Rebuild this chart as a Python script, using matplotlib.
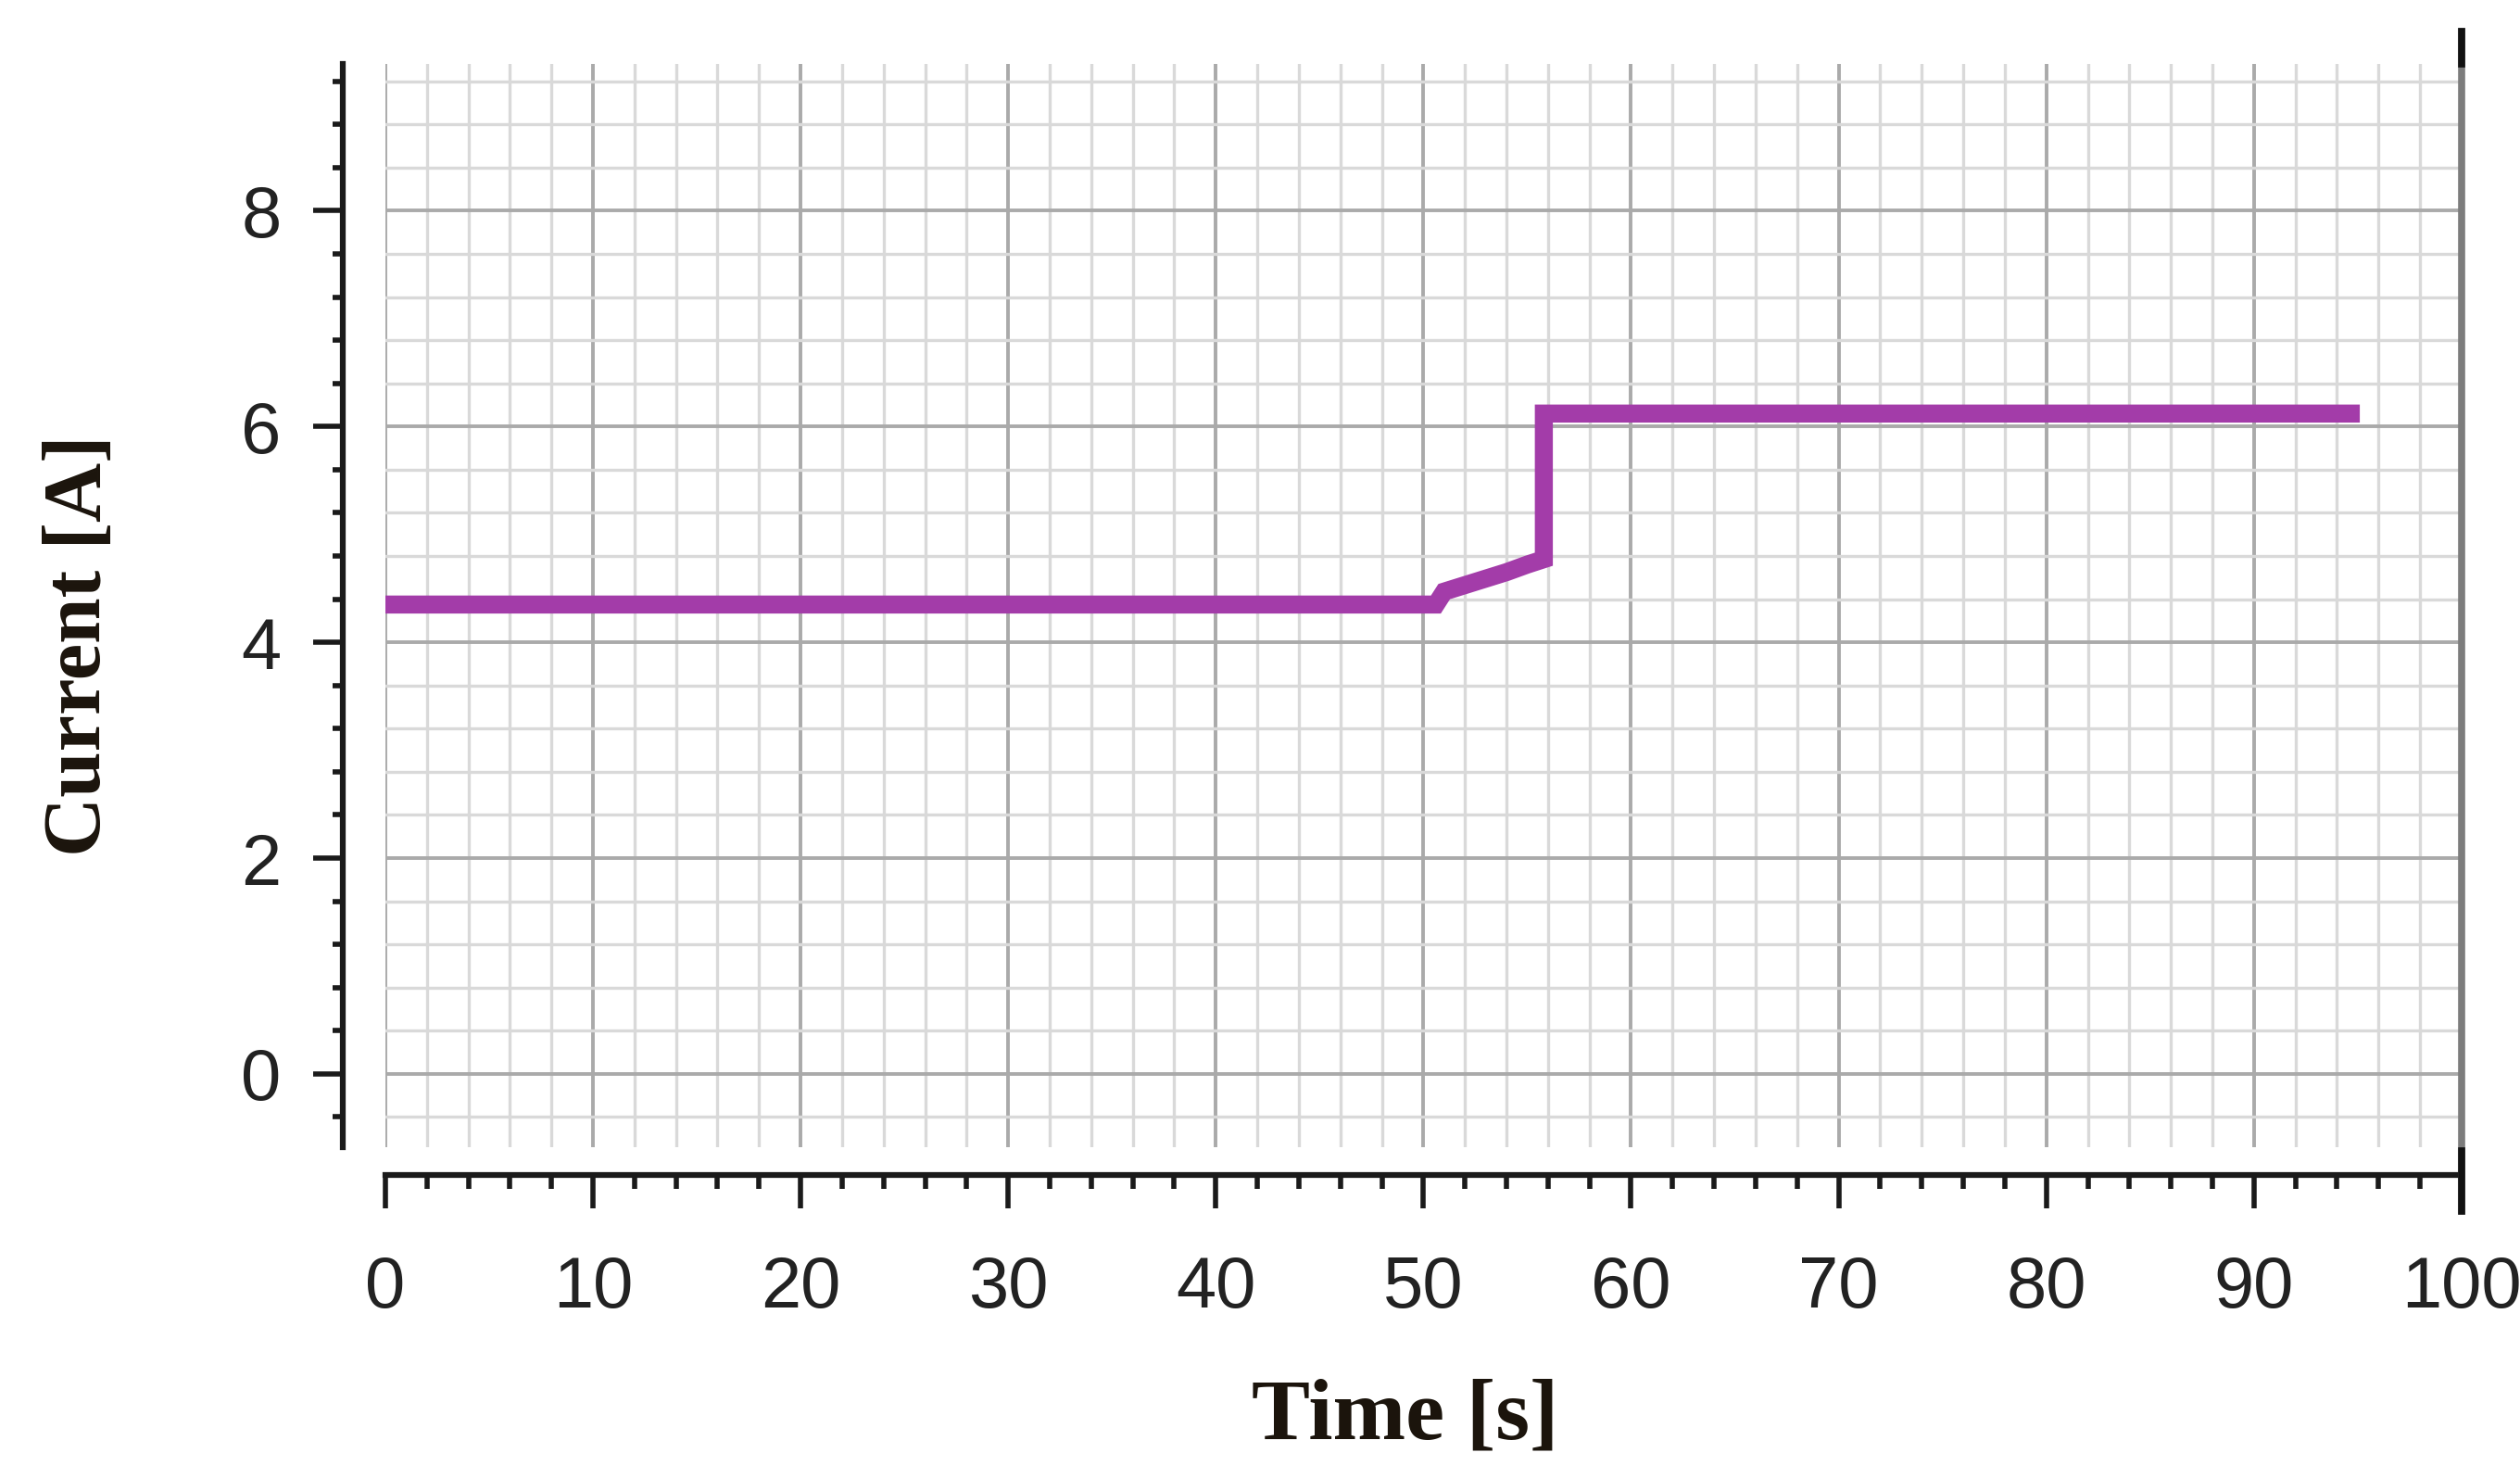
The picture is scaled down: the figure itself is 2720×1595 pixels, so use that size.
import matplotlib
matplotlib.use("Agg")
import matplotlib.pyplot as plt
from matplotlib.ticker import MultipleLocator

# Data
time_s = [0, 50.6, 51.0, 52.0, 53.0, 54.0, 55.0, 55.8, 55.8, 95.1]
current_a = [4.35, 4.35, 4.47, 4.53, 4.59, 4.65, 4.72, 4.77, 6.12, 6.12]
x_ticks = [0, 10, 20, 30, 40, 50, 60, 70, 80, 90, 100]
y_ticks = [0, 2, 4, 6, 8]

fig = plt.figure(figsize=(27.2, 15.95), dpi=100)
ax = fig.add_axes([0.1529, 0.2238, 0.8239, 0.7329])

ax.set_xlim(0, 100)
ax.set_ylim(-0.68, 9.36)

ax.xaxis.set_major_locator(MultipleLocator(10))
ax.xaxis.set_minor_locator(MultipleLocator(2))
ax.yaxis.set_major_locator(MultipleLocator(2))
ax.yaxis.set_minor_locator(MultipleLocator(0.4))
ax.set_xticks(x_ticks)
ax.set_yticks(y_ticks)

# grid
ax.grid(which="minor", color="#d9d9d9", linewidth=2.4, zorder=0)
ax.grid(which="major", color="#aaaaaa", linewidth=2.8, zorder=0)
ax.set_axisbelow(True)

# data line
ax.plot(time_s, current_a, color="#a33ca9", linewidth=14,
        solid_capstyle="butt", solid_joinstyle="miter", zorder=3)

# spines
for s in ["top", "right"]:
    ax.spines[s].set_visible(False)
ax.spines["left"].set_position(("outward", 33))
ax.spines["bottom"].set_position(("outward", 21.5))
ax.spines["left"].set_linewidth(4.5)
ax.spines["bottom"].set_linewidth(4.5)
ax.spines["left"].set_color("#1a1a1a")
ax.spines["bottom"].set_color("#1a1a1a")
ax.spines["bottom"].set_bounds(0, 100)

# right boundary line at x=100 (grey, extending beyond the axes)
ax.axvline(100, ymin=-0.059, ymax=1.03, color="#7c7c7c", linewidth=5.5,
           clip_on=False, zorder=4)
ax.axvline(100, ymin=1.0, ymax=1.03, color="#111111", linewidth=5.5,
           clip_on=False, zorder=5)
ax.axvline(100, ymin=-0.059, ymax=-0.003, color="#111111", linewidth=5.5,
           clip_on=False, zorder=5)

# ticks
ax.tick_params(axis="y", which="major", direction="out", length=23, width=4,
               color="#1a1a1a", pad=25, labelsize=56, labelcolor="#222222")
ax.tick_params(axis="y", which="minor", direction="out", length=8, width=4,
               color="#1a1a1a")
ax.tick_params(axis="x", which="major", direction="out", length=26, width=4,
               color="#1a1a1a", pad=36, labelsize=56, labelcolor="#222222")
ax.tick_params(axis="x", which="minor", direction="out", length=11, width=4,
               color="#1a1a1a")
for lab in ax.get_xticklabels() + ax.get_yticklabels():
    lab.set_family(["Liberation Sans", "DejaVu Sans"])

# axis labels
ax.set_xlabel("Time [s]", family=["Liberation Serif", "DejaVu Serif"],
              fontweight="bold", fontsize=68, color="#1b140c", va="center")
ax.xaxis.set_label_coords(0.491, -0.25)
ax.set_ylabel("Current [A]", family=["Liberation Serif", "DejaVu Serif"],
              fontweight="bold", fontsize=64, color="#1b140c", va="center")
ax.yaxis.set_label_coords(-0.147, 0.463)

fig.savefig("out.png", dpi=100)
